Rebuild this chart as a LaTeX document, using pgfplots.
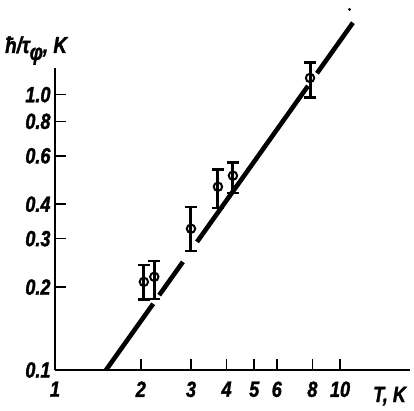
\documentclass[border=0pt]{standalone}
\usepackage{fontspec}
\setmainfont{Liberation Sans}[FakeStretch=0.82, FakeBold=1.5]
\usepackage{pgfplots}
\pgfplotsset{compat=1.18}
\newcommand\tickfont{\fontsize{22}{24}\selectfont\bfseries\itshape}
\newcommand\labfont{\fontsize{23}{25}\selectfont\bfseries\itshape}
\begin{document}
\begin{tikzpicture}
\begin{axis}[
  scale only axis, width=355pt, height=302pt,
  xmode=log, ymode=log,
  xmin=1, xmax=17.6, ymin=0.1, ymax=1.25,
  axis x line*=bottom, axis y line*=left,
  axis line style={-, line width=2.8pt},
  clip=false,
  xtick={1,2,3,4,5,6,8,10},
  xticklabels={1,2,3,4,5,6,8,10},
  ytick={0.1,0.2,0.3,0.4,0.6,0.8,1.0},
  yticklabels={0.1,0.2,0.3,0.4,0.6,0.8,1.0},
  xminorticks=false, yminorticks=false,
  tick align=inside, major tick length=11pt,
  tick style={line width=1.6pt, black},
  xticklabel style={font=\tickfont, yshift=-8pt},
  yticklabel style={font=\tickfont, xshift=-1pt},
]
% fitted straight line, broken near the points
\addplot[line width=4.6pt] coordinates {(1.51,0.1) (2.21,0.174)};
\addplot[line width=4.6pt] coordinates {(2.32,0.187) (2.81,0.247)};
\addplot[line width=4.6pt] coordinates {(3.15,0.292) (7.72,1.076)};
\addplot[line width=4.6pt] coordinates {(8.30,1.196) (11.1,1.826)};
% stray dot
\addplot[only marks, mark=*, mark size=1.3pt] coordinates {(10.8,2.04)};
% data points
\addplot[only marks, mark=o, mark size=4.2pt,
  mark options={line width=2pt, fill=white},
  error bars/.cd, y dir=both, y explicit,
  error bar style={line width=3pt},
  error mark options={rotate=90, mark size=6pt, line width=2.6pt}]
coordinates {
 (2.05,0.209) += (0,0.032) -= (0,0.029)
 (2.23,0.218) += (0,0.031) -= (0,0.037)
 (3.00,0.326) += (0,0.065) -= (0,0.055)
 (3.73,0.463) += (0,0.071) -= (0,0.075)
 (4.21,0.508) += (0,0.058) -= (0,0.068)
 (7.85,1.150) += (0,0.160) -= (0,0.175)
};
\end{axis}
\node[anchor=base west, font=\labfont, inner sep=0pt] at (-50pt,317pt)
  {ħ/τ\raisebox{-7pt}{φ}, K};
\node[anchor=base west, font=\tickfont, inner sep=0pt] at (318pt,-32pt) {T, K};
\pgfresetboundingbox
\path (-55pt,-40pt) rectangle (359pt,370pt);
\end{tikzpicture}
\end{document}
